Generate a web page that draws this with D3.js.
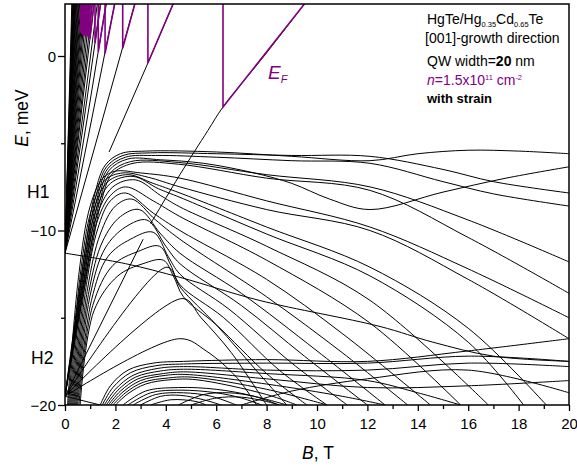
<!DOCTYPE html>
<html><head><meta charset="utf-8">
<script src="https://cdn.jsdelivr.net/npm/d3@7"></script>
<style>body{margin:0;background:#fff}svg{display:block}text{font-family:"Liberation Sans",Arial,sans-serif}</style>
</head><body><svg id="c" width="577" height="466"></svg>
<script>
// ---- data (B in T, E in meV) ----
const xTicks = [0,2,4,6,8,10,12,14,16,18,20];
const yTicks = [0,-10,-20];
const yLevelLabels = [{t:"H1",E:-7.8},{t:"H2",E:-17.3}];
const fanOriginE = -11.3;          // electron Landau fan converges here at B=0
const fanTopB = [0.27,0.29,0.31,0.33,0.35,0.37,0.39,0.41,0.43,0.46,0.49,0.52,0.55,0.58,0.62,0.66,0.70,0.75,0.80,0.86,0.93,1.0,1.08,1.15,1.28,1.41,1.63,1.97,2.77];
const fanLowest = [[1.75,-5.5],[3.29,-0.40],[4.29,2.98]];
// Fermi level saw-tooth: vertex B, vertex E, B where the rising branch leaves the top
const efB    = [6.27, 3.29, 2.29, 1.59, 1.32, 1.19, 0.99, 0.93, 0.87, 0.81, 0.75, 0.70, 0.66, 0.62];
const efE    = [-2.92,-0.40, 0.44, 0.15, 0.25, 0.74, 1.00, 1.00, 1.12, 1.14, 1.15, 1.20, 1.27, 1.35];
const efTopB = [9.50, 4.29, 2.77, 1.97, 1.63, 1.41, 1.15, 1.08, 1.00, 0.93, 0.86, 0.80, 0.75, 0.70];
const zeroMode = [[3.4,-9.6],[4.56,-6.8],[5.67,-4.27],[6.27,-2.92],[7.9,0.0],[9.5,2.98]];
// H1 top band
const topBand = [
 [[0,-19.5],[0.80,-11.1],[1.20,-7.8],[1.60,-6.25],[2.2,-5.6],[3.2,-5.45],[6,-5.5],[9,-5.75],[12.1,-6.0],[14,-5.6],[16,-5.4],[18,-5.45],[20,-5.6]],
 [[0,-19.5],[0.85,-11.1],[1.25,-7.9],[1.65,-6.35],[2.3,-5.7],[3.4,-5.55],[6,-5.6],[9,-5.7],[12.1,-5.75],[15,-6.5],[17,-7.2],[20,-7.85]],
 [[0,-19.5],[0.90,-11.1],[1.30,-8.0],[1.70,-6.45],[2.4,-5.8],[3.6,-5.7],[6,-5.8],[9,-6.0],[12.1,-6.15],[15,-7.2],[17,-7.9],[20,-8.6]],
 [[0,-19.5],[0.95,-11.1],[1.35,-8.1],[1.75,-6.55],[2.5,-5.9],[3.8,-5.95],[5.5,-6.15],[7.5,-6.7],[9,-7.3],[10.5,-8.2],[12.1,-8.8],[15,-7.8],[17.5,-7.0],[20,-6.35]],
 [[0,-19.5],[1.00,-11.1],[1.40,-8.2],[1.80,-6.7],[2.6,-6.05],[4.5,-6.1],[8,-6.8],[12.1,-7.5],[16,-9.4],[20,-11.8]],
 [[0,-19.5],[1.05,-11.1],[1.45,-8.3],[1.85,-6.8],[2.7,-6.15],[4.5,-6.2],[8,-7.0],[12.1,-7.7],[16,-10.4],[20,-13.6]]
];
// H1 arches (rise, peak, descend)
const h1Arches = [
 [[0.10,-20],[0.55,-12.5],[1.0,-8.6],[1.5,-7.0],[2.0,-6.6],[3.0,-6.7],[4.56,-7.0],[8,-8.3],[12.1,-9.8],[16,-12.2],[20,-15.0]],
 [[0.14,-20],[0.6,-12.6],[1.05,-8.8],[1.6,-7.1],[2.3,-6.7],[3.3,-6.95],[4.56,-7.5],[8,-8.8],[12.1,-10.0],[16,-12.8],[20,-16.2]],
 [[0.18,-20],[0.65,-12.7],[1.1,-9.0],[1.7,-7.2],[2.5,-6.8],[3.5,-7.3],[4.56,-7.85],[8,-9.8],[12.1,-12.1],[16,-15.6],[19.1,-20]],
 [[0.22,-20],[0.7,-12.8],[1.15,-9.2],[1.8,-7.3],[2.7,-6.9],[3.7,-7.6],[4.56,-8.1],[8,-10.2],[12.1,-12.6],[16,-16.4],[18.2,-20]],
 [[0.26,-20],[0.75,-12.9],[1.2,-9.4],[1.9,-7.5],[2.8,-7.1],[3.8,-8.0],[4.56,-8.65],[8,-10.9],[12.1,-14.0],[16.8,-20]],
 [[0.30,-20],[0.8,-13.0],[1.25,-9.6],[1.8,-8.0],[2.4,-7.5],[3.5,-8.3],[4.56,-9.2],[8,-11.7],[12.1,-15.3],[15.7,-20]],
 [[0.34,-20],[0.85,-13.1],[1.3,-9.9],[1.8,-8.3],[2.4,-7.85],[3.5,-9.0],[4.56,-10.0],[8,-12.8],[11,-15.9],[14.5,-20]],
 [[0.38,-20],[0.9,-13.3],[1.4,-10.2],[2.0,-8.6],[2.65,-8.2],[3.6,-9.4],[4.56,-10.5],[8,-13.8],[11,-17.0],[13.6,-20]],
 [[0.42,-20],[0.95,-13.5],[1.5,-10.6],[2.2,-9.2],[2.95,-8.8],[3.8,-10.2],[4.56,-11.3],[7,-13.6],[10,-16.9],[12.7,-20]],
 [[0.46,-20],[1.0,-13.7],[1.6,-11.0],[2.4,-9.8],[3.25,-9.4],[4.0,-10.9],[4.56,-11.9],[7,-14.3],[9.5,-17.2],[12.0,-20]],
 [[0.50,-20],[1.05,-14.0],[1.7,-11.5],[2.6,-10.5],[3.5,-10.1],[4.1,-11.5],[4.56,-12.5],[6.5,-14.5],[9,-17.6],[11.2,-20]],
 [[0.55,-20],[1.1,-14.3],[1.9,-12.0],[2.9,-11.2],[3.75,-10.9],[4.2,-12.0],[4.56,-13.1],[6.3,-15.0],[8.5,-18.0],[10.4,-20]],
 [[0.60,-20],[1.15,-14.6],[2.1,-12.6],[3.1,-11.9],[3.9,-11.7],[4.3,-12.6],[4.7,-13.8],[6.0,-15.4],[8.0,-18.2],[9.6,-20]]
];
// H2 fan branches (straight rise from the H2 edge) and single levels
const h2Lines = [
 [[0,-19.5],[4.05,-12.1],[4.6,-13.3],[6.0,-15.4],[7.7,-18.2],[8.8,-20]],
 [[0,-19.5],[4.68,-13.9],[5.4,-15.0],[6.6,-17.0],[8.0,-20]],
 [[0,-19.5],[3.1,-10.5]],
 [[0,-19.5],[4.56,-16.2],[5.6,-16.9],[6.8,-18.4],[7.6,-20]],
 [[0,-19.5],[1.4,-20]],
 [[0,-11.3],[2.4,-11.9],[4.6,-12.7],[7.7,-14.0],[12.5,-15.5],[14.6,-16.4],[17,-17.2],[20,-17.5]]
];
// H2 band
const h2Band = [
 [[1.40,-20],[1.8,-18.9],[2.5,-18.0],[3.5,-17.6],[4.7,-17.5],[8,-17.4],[12,-17.5],[16,-16.9],[20,-16.2]],
 [[1.48,-20],[1.9,-19.0],[2.6,-18.15],[3.6,-17.75],[4.7,-17.65],[8,-17.6],[12,-17.6],[16,-17.2],[20,-17.5]],
 [[1.56,-20],[2.0,-19.1],[2.7,-18.3],[3.7,-17.9],[4.7,-17.8],[8,-18.0],[12,-18.0],[16,-17.6],[20,-17.8]],
 [[1.64,-20],[2.1,-19.15],[2.8,-18.4],[3.8,-18.05],[4.7,-17.95],[8,-18.2],[12,-18.6],[14,-19.3],[15.7,-20]],
 [[1.72,-20],[2.2,-19.2],[2.9,-18.5],[3.9,-18.2],[4.7,-18.1],[8,-18.5],[12,-19.0],[16,-18.9],[20,-18.6]],
 [[1.80,-20],[2.3,-19.25],[3.0,-18.6],[4.0,-18.3],[4.8,-18.25],[8,-18.8],[11,-19.5],[12.7,-20]],
 [[1.90,-20],[2.4,-19.3],[3.1,-18.7],[4.1,-18.45],[5.0,-18.4],[8,-19.1],[10.4,-20]],
 [[2.00,-20],[2.5,-19.35],[3.2,-18.8],[4.2,-18.55],[5.2,-18.55],[8,-19.4],[9.2,-20]],
 [[7.0,-20],[9,-19.2],[12,-18.5],[16,-18.0],[20,-19.3]]
];
const h2Low = [
 [[2.3,-20],[3.2,-19.2],[4.5,-19.0],[6,-19.1],[7.5,-19.5],[8.5,-20]],
 [[2.5,-20],[3.4,-19.3],[4.6,-19.15],[6,-19.3],[7,-19.6],[7.8,-20]],
 [[2.7,-20],[3.6,-19.4],[4.7,-19.3],[5.8,-19.5],[6.8,-20]],
 [[3.0,-20],[3.8,-19.5],[4.6,-19.45],[5.5,-19.7],[6.2,-20]],
 [[3.4,-20],[4.2,-19.7],[5.2,-19.8],[5.6,-20]],
 [[4.5,-20],[5.5,-19.4],[6.5,-19.3],[7.5,-19.5],[8.8,-20]],
 [[5.0,-20],[6.0,-19.6],[7.0,-19.55],[8.0,-19.8],[8.5,-20]]
];

// ---- drawing ----
const svg = d3.select("#c");
const L=65,R=569,T=4,Bt=405;
const x = d3.scaleLinear().domain([0,20]).range([L,R]);
const y = d3.scaleLinear().domain([-20,2.98]).range([Bt,T]);
const purple = "#800080";

svg.append("clipPath").attr("id","clip").append("rect").attr("x",L).attr("y",T).attr("width",R-L).attr("height",Bt-T);
const g = svg.append("g").attr("clip-path","url(#clip)");
const line = d3.line().x(d=>x(d[0])).y(d=>y(d[1])).curve(d3.curveCatmullRom.alpha(0.5));
const straight = d3.line().x(d=>x(d[0])).y(d=>y(d[1]));

function drawSet(set, curved){
  g.selectAll(null).data(set).enter().append("path")
   .attr("d", curved? line : straight).attr("fill","none").attr("stroke","#000").attr("stroke-width",1);
}
drawSet(fanTopB.map(t=>[[0,fanOriginE],[t,2.98]]), false);
drawSet([fanLowest], false);
drawSet([zeroMode], true);
drawSet(topBand, true);
drawSet(h1Arches, true);
drawSet(h2Lines, true);
drawSet(h2Band, true);
drawSet(h2Low, true);

// Fermi level
const efPts = efB.map((b,i)=>[[b,2.98],[b,efE[i]],[efTopB[i],2.98]]);
g.selectAll(null).data(efPts).enter().append("path")
 .attr("d", straight).attr("fill","none").attr("stroke",purple).attr("stroke-width",1.6);

// frame
svg.append("rect").attr("x",L).attr("y",T).attr("width",R-L).attr("height",Bt-T)
  .attr("fill","none").attr("stroke","#000").attr("stroke-width",1.5);

// axes
const xAxis = svg.append("g").attr("transform",`translate(0,${Bt})`)
  .call(d3.axisBottom(x).tickValues(xTicks).tickSize(6).tickSizeOuter(0).tickFormat(d3.format("d")));
svg.append("g").attr("transform",`translate(0,${Bt})`)
  .call(d3.axisBottom(x).tickValues(d3.range(1,20,2)).tickSize(4).tickSizeOuter(0).tickFormat(""));
const yAxis = svg.append("g").attr("transform",`translate(${L},0)`)
  .call(d3.axisLeft(y).tickValues(yTicks).tickSize(7).tickSizeOuter(0).tickFormat(d3.format("d")));
svg.append("g").attr("transform",`translate(${L},0)`)
  .call(d3.axisLeft(y).tickValues([-5,-15]).tickSize(4).tickSizeOuter(0).tickFormat(""));
svg.selectAll(".domain").remove();
svg.selectAll(".tick line").attr("stroke","#000").attr("stroke-width",1.3);
xAxis.selectAll("text").attr("font-size",15).attr("fill","#000").attr("dy","1.0em");
yAxis.selectAll("text").attr("font-size",15).attr("fill","#000").attr("dy","0.35em").attr("x",-9);
svg.selectAll(".tick text").style("font-family",'"Liberation Sans",Arial,sans-serif');

svg.selectAll(null).data(yLevelLabels).enter().append("text")
 .attr("x",d=>d.t==="H1"?27:31).attr("y",d=>y(d.E)+6).attr("font-size",17.5).text(d=>d.t);

// axis titles
const yt = svg.append("text").attr("transform","translate(28,118) rotate(-90)").attr("text-anchor","middle").attr("font-size",17.5);
yt.append("tspan").attr("font-style","italic").text("E");
yt.append("tspan").text(", meV");
const xt = svg.append("text").attr("x",318).attr("y",459).attr("text-anchor","middle").attr("font-size",17.5);
xt.append("tspan").attr("font-style","italic").text("B");
xt.append("tspan").text(", T");

// E_F label
const ef = svg.append("text").attr("x",268).attr("y",79).attr("fill",purple).attr("font-size",19).attr("font-style","italic");
ef.append("tspan").text("E");
ef.append("tspan").attr("font-size",11).attr("dy",4).text("F");

// legend text
const lg = svg.append("g").attr("font-size",14);
const l1 = lg.append("text").attr("x",427).attr("y",24);
l1.append("tspan").text("HgTe/Hg");
l1.append("tspan").attr("font-size",7.5).attr("dy",3).text("0.35");
l1.append("tspan").attr("dy",-3).text("Cd");
l1.append("tspan").attr("font-size",7.5).attr("dy",3).text("0.65");
l1.append("tspan").attr("dy",-3).text("Te");
lg.append("text").attr("x",425).attr("y",43).text("[001]-growth direction");
const l3 = lg.append("text").attr("x",427).attr("y",66);
l3.append("tspan").text("QW width=");
l3.append("tspan").attr("font-weight","bold").text("20");
l3.append("tspan").text(" nm");
const l4 = lg.append("text").attr("x",427).attr("y",85).attr("fill",purple);
l4.append("tspan").attr("font-style","italic").text("n");
l4.append("tspan").text("=1.5x10");
l4.append("tspan").attr("font-size",7.5).attr("dy",-5).text("11");
l4.append("tspan").attr("dy",5).text(" cm");
l4.append("tspan").attr("font-size",7.5).attr("dy",-5).text("-2");
lg.append("text").attr("x",427).attr("y",103).attr("font-weight","bold").attr("font-size",13).text("with strain");
</script></body></html>
